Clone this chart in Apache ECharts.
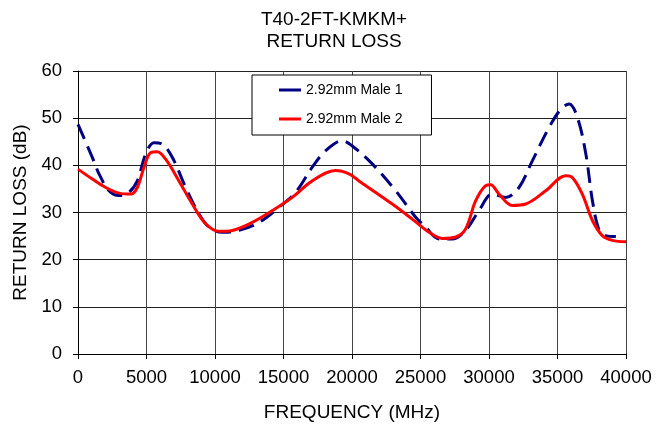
<!DOCTYPE html>
<html>
<head>
<meta charset="utf-8">
<script src="https://cdn.jsdelivr.net/npm/echarts@6/dist/echarts.min.js"></script>
<style>html,body{margin:0;padding:0;background:#fff;}#c{width:668px;height:427px;}</style>
</head>
<body>
<div id="c"></div>
<script>
const xTicks = [0, 5000, 10000, 15000, 20000, 25000, 30000, 35000, 40000];
const yTicks = [0, 10, 20, 30, 40, 50, 60];
const seriesNames = ['2.92mm Male 1', '2.92mm Male 2'];
const freq1 = [0,1044,1533,2263,2993,3723,4330,4940,5547,6150,6880,7860,8830,9560,10530,11750,13210,14670,15890,17100,18080,19290,20020,21480,23190,24650,25380,26340,27310,28290,29270,30240,31220,32190,33170,34380,35240,35850,36460,37070,37550,38040,38530,39260];
const rl1 = [48.7,41.7,38.2,34.6,33.6,34.3,36.7,42.4,44.8,44.5,41.7,35.3,29.7,26.9,25.8,26.2,27.9,31.1,34.3,39.6,43.1,45.2,44.1,40.3,34.6,29.0,26.9,24.4,24.4,26.2,30.4,33.9,33.2,35.3,41.0,48.0,51.9,53.0,50.1,42.4,32.5,26.2,25.1,24.9];
const freq2 = [0,1044,2020,2993,3850,4330,4820,5310,5790,6400,7370,8340,9320,10290,11260,12720,14180,15640,17100,18810,19780,20510,22940,24400,25620,26590,27570,28290,29030,29760,30120,30730,31700,32680,34140,35600,36080,36810,37550,38270,39000,40000];
const rl2 = [39.2,37.1,35.3,34.1,33.9,35.3,39.6,42.7,42.9,41.3,36.7,31.8,27.6,26.0,26.2,27.9,30.4,33.2,36.7,38.9,38.2,36.7,31.8,28.6,25.8,24.5,24.8,26.5,32.5,35.7,35.9,33.9,31.5,31.8,34.6,37.8,37.4,33.9,28.3,25.1,24.1,23.8];

const pairs = (xs, ys) => xs.map((x, i) => [x, ys[i]]);
const FONT = 'Liberation Sans, Arial, sans-serif';
const chart = echarts.init(document.getElementById('c'));
chart.setOption({
  animation: false,
  backgroundColor: '#fff',
  title: {
    text: 'T40-2FT-KMKM+\nRETURN LOSS',
    left: 'center', top: 4,
    textStyle: { fontFamily: FONT, fontSize: 19, fontWeight: 'normal', color: '#000', lineHeight: 22 }
  },
  legend: {
    orient: 'vertical', left: 252, top: 75,
    padding: [7, 29, 8, 27],
    icon: 'rect',
    itemWidth: 22, itemHeight: 3, itemGap: 13,
    itemStyle: { borderWidth: 0, borderColor: 'transparent' },
    borderColor: '#000', borderWidth: 1, backgroundColor: '#fff',
    textStyle: { fontFamily: FONT, fontSize: 14, color: '#000', lineHeight: 16 },
    data: [
      { name: seriesNames[0], itemStyle: { color: '#000080', borderWidth: 0 } },
      { name: seriesNames[1], itemStyle: { color: '#ff0000', borderWidth: 0 } }
    ]
  },
  grid: { left: 78, right: 42, top: 71, bottom: 73 },
  xAxis: {
    type: 'value', min: xTicks[0], max: xTicks[xTicks.length - 1], interval: 5000,
    name: 'FREQUENCY (MHz)', nameLocation: 'middle', nameGap: 49,
    nameTextStyle: { fontFamily: FONT, fontSize: 19, color: '#000' },
    axisLine: { onZero: false, lineStyle: { color: '#000', width: 1 } },
    axisTick: { show: true, inside: false, length: 5, lineStyle: { color: '#000' } },
    axisLabel: { fontFamily: FONT, fontSize: 18.5, color: '#000', margin: 14, formatter: v => String(v) },
    splitLine: { show: true, lineStyle: { color: '#444', width: 1 } }
  },
  yAxis: {
    type: 'value', min: yTicks[0], max: yTicks[yTicks.length - 1], interval: 10,
    name: 'RETURN LOSS (dB)', nameLocation: 'middle', nameGap: 44,
    nameTextStyle: { fontFamily: FONT, fontSize: 19, color: '#000' },
    axisLine: { show: true, lineStyle: { color: '#000', width: 1 } },
    axisTick: { show: true, inside: false, length: 5, lineStyle: { color: '#000' } },
    axisLabel: { fontFamily: FONT, fontSize: 18.5, color: '#000', margin: 16 },
    splitLine: { show: true, lineStyle: { color: '#222', width: 1 } }
  },
  series: [
    {
      name: seriesNames[0], type: 'line', data: pairs(freq1, rl1),
      smooth: 0.35, symbol: 'none', z: 3,
      lineStyle: { color: '#000080', width: 3, type: [16, 8] },
      itemStyle: { color: '#000080' }
    },
    {
      name: seriesNames[1], type: 'line', data: pairs(freq2, rl2),
      smooth: 0.35, symbol: 'none', z: 4,
      lineStyle: { color: '#ff0000', width: 3, type: 'solid' },
      itemStyle: { color: '#ff0000' }
    }
  ]
});
</script>
</body>
</html>
